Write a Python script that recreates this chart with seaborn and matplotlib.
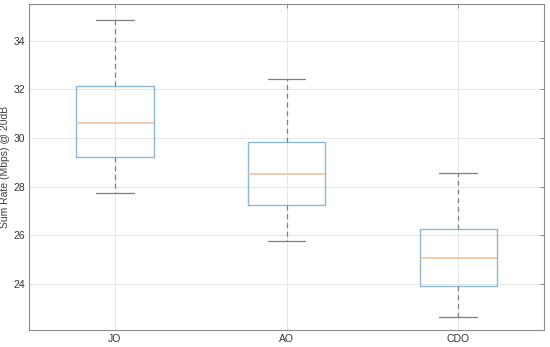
import pandas as pd
import matplotlib
matplotlib.use("Agg")
import matplotlib.pyplot as plt
import seaborn as sns

# five-number summaries: low whisker, q1, median, q3, high whisker
methods = ["JO", "AO", "CDO"]
jo_vals = [27.75, 29.22, 30.61, 32.12, 34.86]
ao_vals = [25.75, 27.22, 28.53, 29.84, 32.41]
cdo_vals = [22.65, 23.92, 25.07, 26.25, 28.57]

df = pd.DataFrame({
    "method": [m for m, v in zip(methods, [jo_vals, ao_vals, cdo_vals]) for _ in v],
    "rate": jo_vals + ao_vals + cdo_vals,
})

sns.set_style("white")
plt.rcParams['font.family'] = ['Liberation Sans', 'DejaVu Sans']

fig = plt.figure(figsize=(5.5, 3.47), dpi=100)
ax = fig.add_axes([0.053, 0.049, 0.936, 0.939])

sns.boxplot(
    data=df, x="method", y="rate", order=methods, ax=ax,
    whis=(0, 100), width=0.45, fill=False, showfliers=False,
    boxprops=dict(color="#8db9d6", linewidth=1.0),
    medianprops=dict(color="#ecc29d", linewidth=1.2),
    whiskerprops=dict(color="#7f7f7f", linewidth=0.9, linestyle=(0, (4, 3))),
    capprops=dict(color="#7f7f7f", linewidth=0.9),
    capwidths=0.22,
)

ax.set_xlim(-0.5, 2.5)
ax.set_ylim(22.1, 35.5)
ax.set_yticks([24, 26, 28, 30, 32, 34])
ax.grid(True, color="#e6e6e6", linewidth=0.7)
ax.set_axisbelow(True)
ax.set_xlabel("")
ax.set_ylabel("Sum Rate (Mbps) @ 20dB", fontsize=7.5, color="#404040", labelpad=2)
ax.tick_params(axis="both", labelsize=7.5, colors="#7f7f7f", direction="in",
               length=3, width=0.6, right=True, top=True, pad=3)
ax.tick_params(axis="both", labelcolor="#333333")
for s in ax.spines.values():
    s.set_color("#8c8c8c")
    s.set_linewidth(0.8)

fig.savefig("out.png", dpi=100)
